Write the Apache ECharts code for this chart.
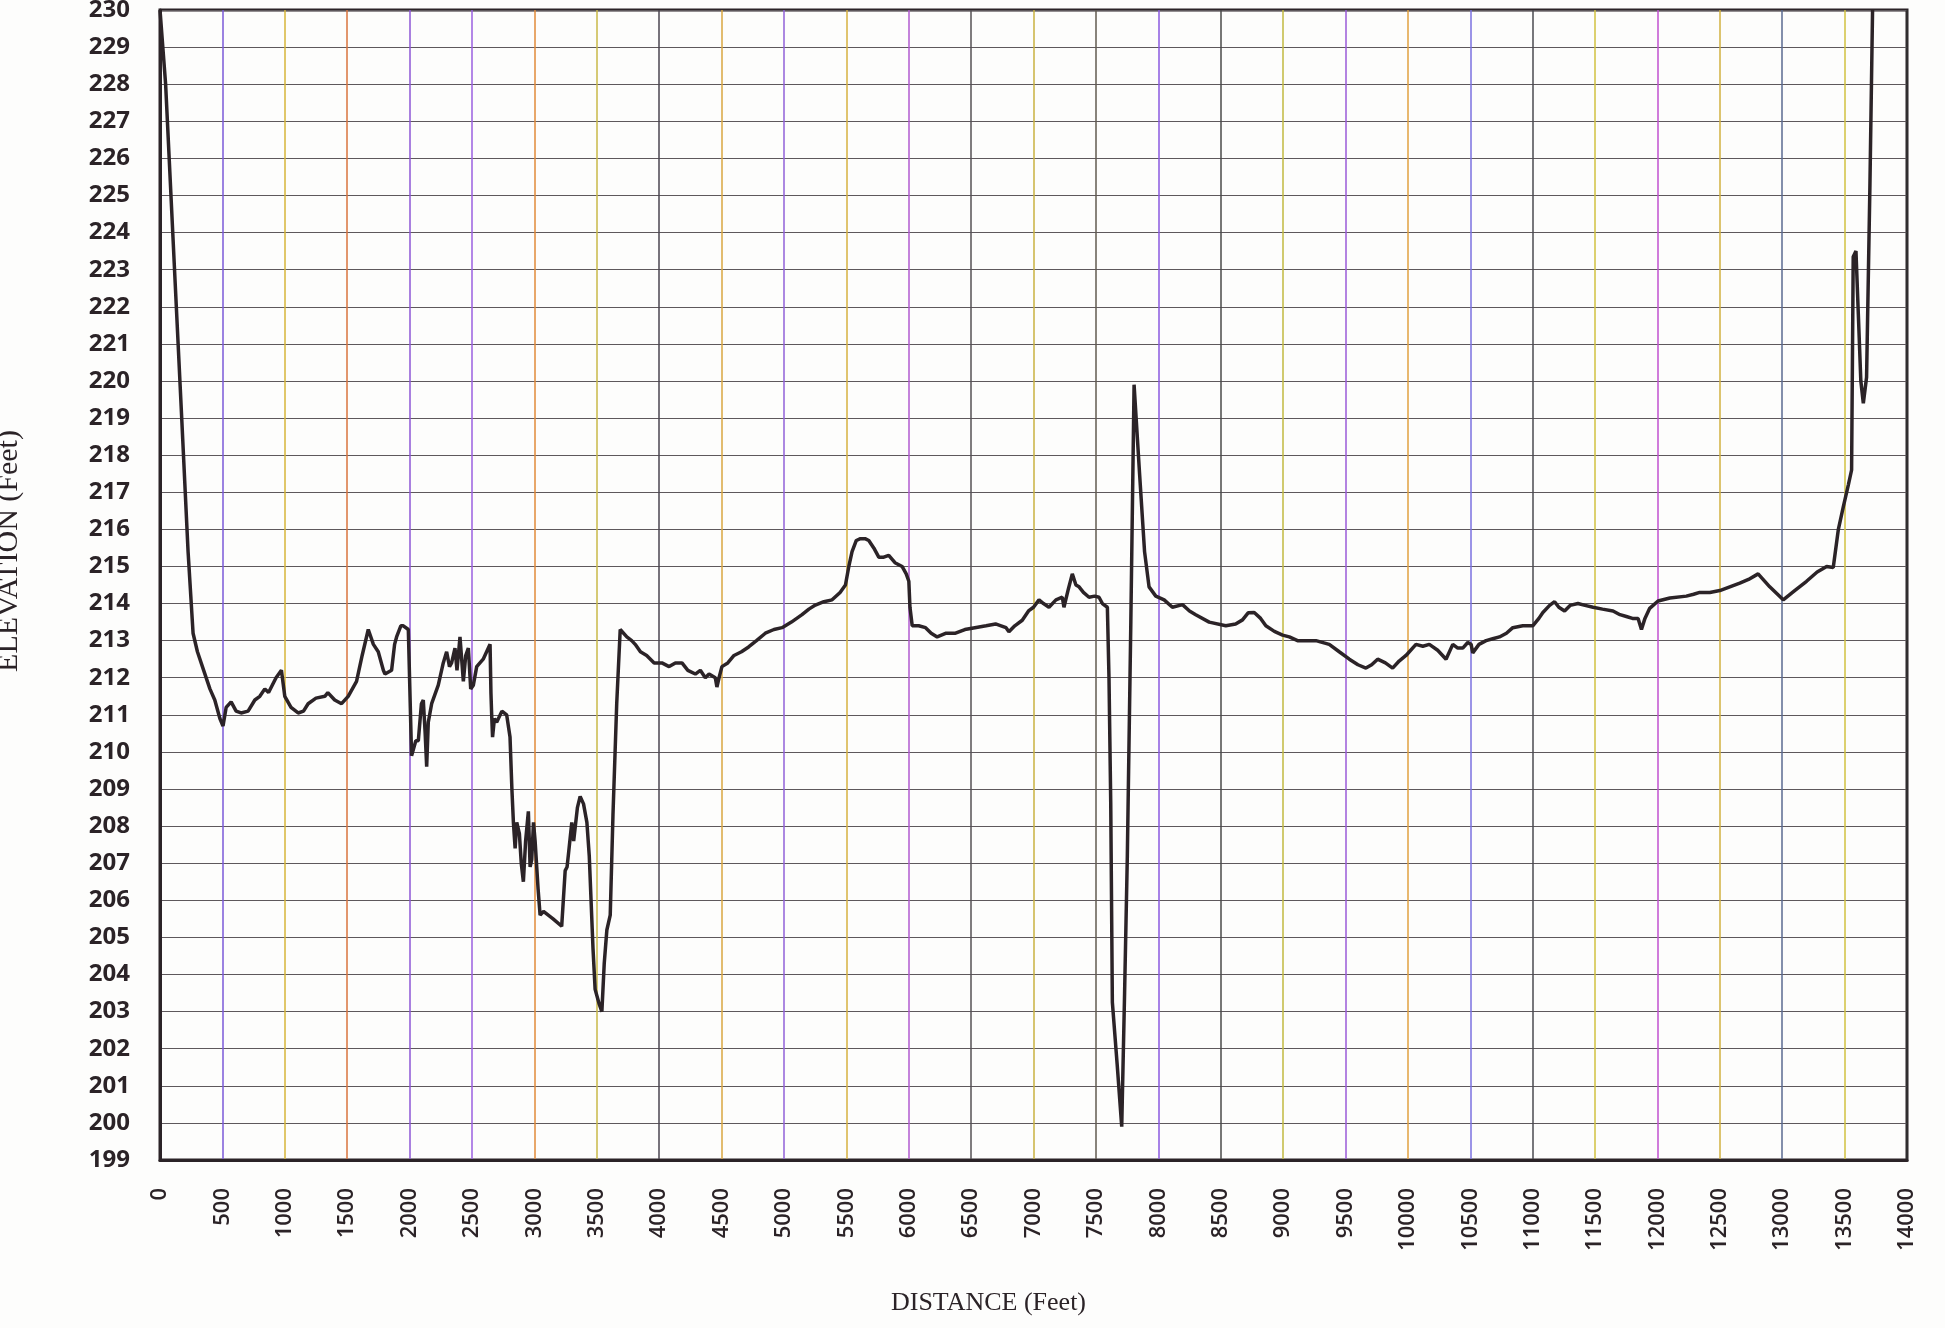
<!DOCTYPE html>
<html>
<head>
<meta charset="UTF-8">
<title>Elevation profile</title>
<script src="https://cdn.jsdelivr.net/npm/echarts@6/dist/echarts.min.js"></script>
<style>
    html, body { margin: 0; padding: 0; background: #fdfdfc; }
    #main { width: 1945px; height: 1328px; }
</style>
</head>
<body>
<div id="main"></div>
<script>
// distance along the profile (feet)
var distance = [
    0, 45, 115, 174, 225, 265, 300, 350, 400, 439, 480, 505, 530, 570, 610, 650, 706, 760, 800, 840,
    870, 930, 973, 1000, 1050, 1107, 1150, 1187, 1250, 1321, 1345, 1400, 1455, 1508, 1575, 1620, 1669, 1710, 1749, 1790,
    1803, 1856, 1880, 1896, 1930, 1950, 1990, 2016, 2050, 2070, 2095, 2110, 2125, 2137, 2150, 2177, 2230, 2270, 2297, 2320,
    2337, 2364, 2380, 2404, 2431, 2450, 2471, 2490, 2511, 2538, 2590, 2645, 2652, 2658, 2665, 2680, 2698, 2740, 2778, 2805,
    2820, 2832, 2846, 2859, 2880, 2895, 2912, 2930, 2952, 2966, 2979, 2993, 3006, 3030, 3046, 3073, 3150, 3219, 3247, 3262,
    3275, 3300, 3315, 3327, 3345, 3367, 3394, 3421, 3440, 3470, 3487, 3520, 3541, 3560, 3581, 3608, 3630, 3660, 3688, 3741,
    3780, 3808, 3850, 3900, 3960, 4022, 4080, 4130, 4183, 4230, 4290, 4330, 4370, 4400, 4450, 4463, 4480, 4503, 4550, 4600,
    4660, 4717, 4780, 4851, 4920, 4985, 5060, 5145, 5200, 5252, 5320, 5386, 5450, 5493, 5520, 5546, 5580, 5613, 5650, 5680,
    5720, 5760, 5800, 5840, 5890, 5947, 5980, 6001, 6010, 6028, 6080, 6135, 6180, 6228, 6300, 6375, 6450, 6530, 6620, 6696,
    6740, 6780, 6803, 6850, 6910, 6960, 7000, 7044, 7080, 7124, 7180, 7231, 7244, 7280, 7311, 7340, 7365, 7400, 7445, 7490,
    7525, 7552, 7592, 7605, 7619, 7632, 7670, 7707, 7730, 7752, 7780, 7806, 7850, 7890, 7926, 7980, 8047, 8113, 8194, 8250,
    8300, 8408, 8541, 8620, 8675, 8720, 8769, 8820, 8862, 8930, 8996, 9050, 9116, 9190, 9263, 9370, 9450, 9531, 9600, 9664,
    9710, 9758, 9820, 9878, 9930, 9985, 10065, 10120, 10172, 10239, 10306, 10360, 10400, 10440, 10480, 10507, 10520, 10570, 10627, 10680,
    10734, 10790, 10841, 10921, 11001, 11050, 11082, 11136, 11176, 11210, 11256, 11300, 11363, 11420, 11484, 11560, 11644, 11700, 11751, 11800,
    11845, 11872, 11900, 11938, 12005, 12100, 12232, 12290, 12339, 12420, 12500, 12580, 12660, 12730, 12807, 12900, 13008, 13100, 13195, 13280,
    13356, 13409, 13450, 13489, 13530, 13556, 13569, 13591, 13610, 13630, 13650, 13676, 13703, 13724
];

// elevation (feet)
var elevation = [
    230, 228, 223.1, 219, 215.4, 213.2, 212.7, 212.2, 211.7, 211.4, 210.9, 210.7, 211.2, 211.35, 211.1, 211.05, 211.1, 211.4, 211.5, 211.7,
    211.6, 212.0, 212.2, 211.5, 211.2, 211.05, 211.1, 211.3, 211.45, 211.5, 211.6, 211.4, 211.3, 211.5, 211.9, 212.6, 213.3, 212.9, 212.7, 212.2,
    212.1, 212.2, 212.9, 213.1, 213.4, 213.4, 213.3, 209.9, 210.3, 210.3, 211.3, 211.4, 210.5, 209.6, 210.8, 211.3, 211.8, 212.4, 212.7, 212.3,
    212.4, 212.8, 212.2, 213.1, 211.9, 212.6, 212.8, 211.7, 211.8, 212.3, 212.5, 212.9, 211.6, 211.0, 210.4, 210.9, 210.8, 211.1, 211.0, 210.4,
    209.0, 208.1, 207.4, 208.1, 207.8, 207.0, 206.5, 207.6, 208.4, 206.9, 207.1, 208.1, 207.6, 206.3, 205.6, 205.7, 205.5, 205.3, 206.8, 206.9,
    207.3, 208.1, 207.6, 207.6, 208.5, 208.8, 208.6, 208.1, 207.2, 204.7, 203.6, 203.2, 203.0, 204.3, 205.2, 205.6, 208.3, 211.3, 213.3, 213.1,
    213.0, 212.9, 212.7, 212.6, 212.4, 212.4, 212.3, 212.4, 212.4, 212.2, 212.1, 212.2, 212.0, 212.1, 212.0, 211.75, 212.0, 212.3, 212.4, 212.6,
    212.7, 212.83, 213.0, 213.2, 213.3, 213.35, 213.5, 213.7, 213.85, 213.96, 214.05, 214.1, 214.3, 214.5, 215.0, 215.4, 215.7, 215.75, 215.75, 215.7,
    215.5, 215.25, 215.25, 215.3, 215.1, 215.0, 214.8, 214.6, 213.9, 213.4, 213.4, 213.35, 213.2, 213.1, 213.2, 213.2, 213.3, 213.35, 213.4, 213.45,
    213.4, 213.35, 213.24, 213.4, 213.55, 213.8, 213.9, 214.1, 214.0, 213.9, 214.1, 214.17, 213.9, 214.4, 214.8, 214.5, 214.45, 214.3, 214.17, 214.2,
    214.17, 214.0, 213.9, 212.0, 208.6, 203.25, 201.6, 199.9, 203.5, 207.2, 213.5, 219.9, 217.5, 215.4, 214.45, 214.2, 214.1, 213.9, 213.97, 213.8,
    213.7, 213.5, 213.4, 213.45, 213.56, 213.75, 213.76, 213.6, 213.4, 213.25, 213.15, 213.1, 213.0, 213.0, 213.0, 212.9, 212.7, 212.5, 212.35, 212.26,
    212.35, 212.5, 212.4, 212.26, 212.45, 212.6, 212.9, 212.85, 212.9, 212.74, 212.5, 212.9, 212.8, 212.8, 212.95, 212.9, 212.67, 212.9, 213.0, 213.05,
    213.1, 213.2, 213.35, 213.4, 213.4, 213.6, 213.76, 213.95, 214.05, 213.9, 213.8, 213.95, 214.0, 213.95, 213.9, 213.85, 213.8, 213.7, 213.65, 213.6,
    213.6, 213.3, 213.6, 213.87, 214.07, 214.15, 214.2, 214.25, 214.3, 214.3, 214.35, 214.45, 214.55, 214.65, 214.8, 214.45, 214.1, 214.35, 214.6, 214.85,
    215.0, 214.97, 216.0, 216.6, 217.2, 217.6, 223.35, 223.5, 221.8, 220.0, 219.4, 220.1, 225.3, 230
];

// axis ticks
var xTicks = [0, 14000, 500];   // min, max, step
var yTicks = [199, 230, 1];

// colours of the vertical rulings (the paper's multi-coloured lines)
var rulingColors = ['#333', '#7a58d8', '#d6b43a', '#d9733e', '#8c56d6', '#9a5fe0', '#e08a3a', '#c9b848',
    '#4a4550', '#d8a640', '#9060d8', '#d6b040', '#b05ad0', '#555055', '#c8b040', '#605a50', '#8a58e0',
    '#4a4a4a', '#c0b840', '#9a5ad8', '#e0a040', '#7a70e0', '#4a4a50', '#d0c040', '#c050d0', '#d0b040',
    '#5a6a90', '#d0c040', '#333'];

var points = [];
for (var i = 0; i < distance.length; i++) {
    points.push([distance[i], elevation[i]]);
}

var myChart = echarts.init(document.getElementById('main'));
var option = {
    backgroundColor: '#fdfdfc',
    animation: false,
    grid: {
        left: 160,
        right: 38,
        top: 10,
        bottom: 168,
        outerBoundsMode: 'none',
        containLabel: false,
        show: true,
        borderColor: '#2b2327',
        borderWidth: 3
    },
    xAxis: {
        type: 'value',
        min: xTicks[0],
        max: xTicks[1],
        interval: xTicks[2],
        name: 'DISTANCE (Feet)',
        nameLocation: 'middle',
        nameGap: 130,
        nameTextStyle: {
            fontFamily: 'Liberation Serif',
            fontSize: 26,
            color: '#2b2327',
            padding: [0, 90, 0, 0]
        },
        axisLine: { show: true, lineStyle: { color: '#2b2327', width: 3 } },
        axisTick: { show: false },
        axisLabel: {
            rotate: 90,
            margin: 28,
            fontFamily: 'Open Sans',
            fontWeight: 600,
            fontSize: 22,
            color: '#2b2327',
            formatter: function (v) { return String(v); }
        },
        splitLine: {
            show: true,
            lineStyle: { color: rulingColors, width: 1.5 }
        }
    },
    yAxis: {
        type: 'value',
        min: yTicks[0],
        max: yTicks[1],
        interval: yTicks[2],
        name: 'ELEVATION (Feet)',
        nameLocation: 'middle',
        nameRotate: 90,
        nameGap: 136,
        nameTextStyle: {
            fontFamily: 'Liberation Serif',
            fontSize: 30,
            color: '#2b2327',
            padding: [0, 0, 0, 68]
        },
        axisLine: { show: true, lineStyle: { color: '#2b2327', width: 3 } },
        axisTick: { show: false },
        axisLabel: {
            margin: 30,
            fontFamily: 'Open Sans',
            fontWeight: 700,
            fontSize: 24,
            color: '#2b2327'
        },
        splitLine: {
            show: true,
            lineStyle: { color: '#5e585c', width: 1.2 }
        }
    },
    series: [{
        type: 'line',
        data: points,
        showSymbol: false,
        clip: true,
        lineStyle: { color: '#2b2327', width: 3.5 }
    }]
};
myChart.setOption(option);
</script>
</body>
</html>
